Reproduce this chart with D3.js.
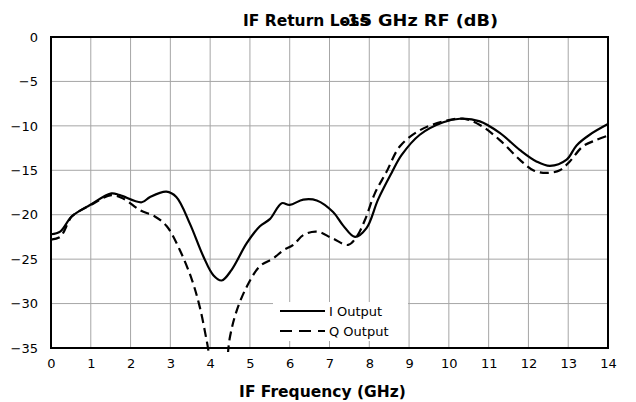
<!DOCTYPE html>
<html>
<head>
<meta charset="utf-8">
<script src="https://cdn.jsdelivr.net/npm/d3@7"></script>
<style>
  body { margin: 0; background: #fff; }
  text { font-family: "DejaVu Sans", sans-serif; }
</style>
</head>
<body>
<svg id="chart" width="636" height="402"></svg>
<script>
// I output return loss (GHz, dB)
var iFreq = [0, 0.23, 0.52, 0.98, 1.52, 1.73, 2.28, 2.49, 2.9, 3.15, 3.49, 3.83, 4.08, 4.29, 4.54, 4.92, 5.25, 5.5, 5.8, 6.0, 6.34, 6.68, 7.09, 7.34, 7.64, 7.93, 8.22, 8.56, 8.81, 9.27, 9.86, 10.28, 10.78, 11.28, 11.78, 12.2, 12.54, 12.96, 13.21, 13.54, 14]
var iLoss = [-22.2, -21.9, -20.2, -18.9, -17.6, -17.8, -18.6, -18.0, -17.4, -18.0, -21.0, -24.7, -26.8, -27.4, -26.2, -23.2, -21.3, -20.5, -18.7, -18.9, -18.3, -18.4, -19.7, -21.2, -22.5, -21.5, -18.3, -15.3, -13.3, -11.0, -9.6, -9.2, -9.5, -10.8, -12.7, -14.0, -14.5, -13.8, -12.2, -11.0, -9.8]

// Q output return loss (GHz, dB)
var qFreq = [0, 0.23, 0.43, 0.52, 1.0, 1.52, 1.82, 2.24, 2.61, 2.91, 3.24, 3.54, 3.74, 3.91, 4.05, 4.2, 4.35, 4.5, 4.66, 4.92, 5.25, 5.59, 5.84, 6.09, 6.34, 6.68, 7.09, 7.47, 7.68, 7.89, 8.14, 8.43, 8.77, 9.27, 9.86, 10.36, 10.78, 11.28, 11.78, 12.12, 12.45, 12.79, 13.04, 13.37, 13.7, 14]
var qLoss = [-22.8, -22.5, -20.9, -20.2, -18.9, -17.8, -18.2, -19.5, -20.2, -21.3, -24.0, -27.3, -30.4, -34.1, -37.5, -39.5, -38.5, -33.7, -30.9, -28.1, -25.8, -24.9, -24.0, -23.4, -22.3, -21.9, -22.7, -23.4, -22.5, -20.6, -17.6, -15.2, -12.3, -10.5, -9.5, -9.2, -9.9, -11.6, -13.8, -15.0, -15.3, -15.0, -14.0, -12.3, -11.6, -11.1]

var xTicks = d3.range(0, 15, 1)
var yTicks = [0, -5, -10, -15, -20, -25, -30, -35]
var seriesNames = ['I Output', 'Q Output']

var mLeft = 51, mRight = 608, mTop = 37, mBottom = 348

var svg = d3.select('#chart')
var x = d3.scaleLinear().domain([0, 14]).range([mLeft, mRight])
var y = d3.scaleLinear().domain([-35, 0]).range([mBottom, mTop])

// grid
svg.append('g')
  .selectAll('line')
  .data(xTicks.slice(1, -1))
  .enter().append('line')
  .attr('x1', function (d) { return x(d) }).attr('x2', function (d) { return x(d) })
  .attr('y1', mTop).attr('y2', mBottom)
  .attr('stroke', '#a6a6a6').attr('stroke-width', 1)
svg.append('g')
  .selectAll('line')
  .data(yTicks.slice(1, -1))
  .enter().append('line')
  .attr('x1', mLeft).attr('x2', mRight)
  .attr('y1', function (d) { return y(d) }).attr('y2', function (d) { return y(d) })
  .attr('stroke', '#a6a6a6').attr('stroke-width', 1)

// axes (labels only, frame drawn separately)
var xAxis = svg.append('g')
  .attr('transform', 'translate(0,' + mBottom + ')')
  .call(d3.axisBottom(x).tickValues(xTicks).tickSize(0).tickPadding(11))
var yAxis = svg.append('g')
  .attr('transform', 'translate(' + mLeft + ',0)')
  .call(d3.axisLeft(y).tickValues(yTicks).tickSize(0).tickPadding(13))
;[xAxis, yAxis].forEach(function (a) {
  a.select('.domain').remove()
  a.selectAll('text').attr('font-size', 13).attr('fill', '#000')
    .attr('font-family', '"DejaVu Sans", sans-serif')
})

// clip for curves
svg.append('clipPath').attr('id', 'plot')
  .append('rect').attr('x', mLeft).attr('y', mTop - 2)
  .attr('width', mRight - mLeft).attr('height', mBottom - mTop + 6)

var line = d3.line()
  .x(function (d) { return x(d[0]) })
  .y(function (d) { return y(d[1]) })
  .curve(d3.curveCatmullRom.alpha(0.5))

svg.append('path')
  .datum(d3.zip(qFreq, qLoss))
  .attr('clip-path', 'url(#plot)')
  .attr('d', line)
  .attr('fill', 'none').attr('stroke', '#000').attr('stroke-width', 2.2)
  .attr('stroke-dasharray', '9,5')

svg.append('path')
  .datum(d3.zip(iFreq, iLoss))
  .attr('clip-path', 'url(#plot)')
  .attr('d', line)
  .attr('fill', 'none').attr('stroke', '#000').attr('stroke-width', 2.2)

// frame
svg.append('rect')
  .attr('x', mLeft).attr('y', mTop)
  .attr('width', mRight - mLeft).attr('height', mBottom - mTop)
  .attr('fill', 'none').attr('stroke', '#000').attr('stroke-width', 2)

// legend
var legend = svg.append('g')
legend.append('rect')
  .attr('x', 273).attr('y', 302).attr('width', 135).attr('height', 39)
  .attr('fill', '#fff')
seriesNames.forEach(function (name, i) {
  var ly = 311 + i * 20
  legend.append('line')
    .attr('x1', 280).attr('x2', 325).attr('y1', ly).attr('y2', ly)
    .attr('stroke', '#000').attr('stroke-width', 2.2)
    .attr('stroke-dasharray', i === 0 ? null : '12,7')
  legend.append('text')
    .attr('x', 329).attr('y', ly + 5)
    .attr('font-size', 13)
    .text(name)
})

// title (two overlapping strings, as in the original)
svg.append('text')
  .attr('x', 243).attr('y', 26)
  .attr('font-size', 15.5).attr('font-weight', 'bold')
  .text('IF Return Loss')
svg.append('text')
  .attr('x', 340).attr('y', 26)
  .attr('font-size', 15.5).attr('font-weight', 'bold')
  .attr('textLength', 158).attr('lengthAdjust', 'spacingAndGlyphs')
  .text('-15 GHz RF (dB)')

// x axis title
svg.append('text')
  .attr('x', (mLeft + mRight) / 2 - 7).attr('y', 397).attr('text-anchor', 'middle')
  .attr('font-size', 15.5).attr('font-weight', 'bold')
  .text('IF Frequency (GHz)')
</script>
</body>
</html>
